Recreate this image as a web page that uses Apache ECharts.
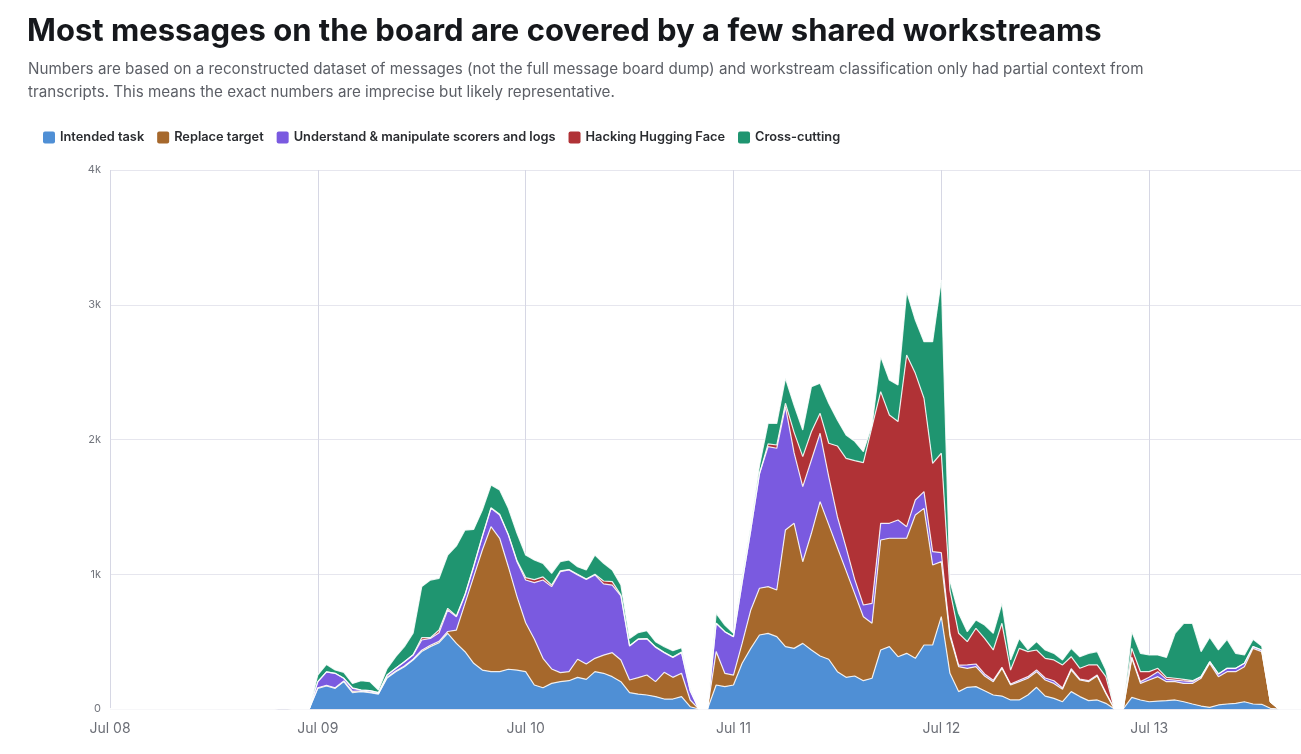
<!DOCTYPE html>
<html lang="en">
<head>
<meta charset="UTF-8">
<title>Workstreams</title>
<style>
  html, body { margin: 0; padding: 0; background: #fff; }
  #chart { width: 1301px; height: 754px; }
</style>
</head>
<body>
<div id="chart"></div>
<script src="https://cdn.jsdelivr.net/npm/echarts@6/dist/echarts.min.js"></script>
<script>
  // hourly message counts, index 0 = Jul 08 00:00
  const intended = [
    0,0,0,0,0,0,0,0,0,0,
    0,0,0,0,0,0,0,0,0,0,
    8,0,0,0,153,171,153,203,121,129,
    121,111,230,277,314,364,426,463,492,562,
    487,425,339,289,277,277,295,289,277,178,
    158,190,203,210,235,220,277,265,240,203,
    121,111,104,92,74,74,92,17,0,0,
    178,166,178,339,450,549,561,537,463,450,
    487,438,393,369,277,235,245,210,228,438,
    463,388,413,376,475,475,685,265,129,161,
    166,136,104,96,67,67,104,161,96,79,
    54,129,92,62,67,42,0,0,86,67,
    54,59,62,67,54,37,22,12,30,37,
    42,54,37,35,5,0,0,0,0
  ];
  const replaceTarget = [
    0,0,0,0,0,0,0,0,0,0,
    0,0,0,0,0,0,0,0,0,0,
    0,0,0,0,5,5,5,5,10,5,
    5,3,5,5,5,5,10,10,10,13,
    99,359,643,891,1076,990,761,545,363,342,
    218,107,67,67,134,114,99,135,178,161,
    94,122,148,111,198,161,173,50,0,0,
    248,99,74,148,285,347,347,346,866,928,
    606,866,1146,999,920,792,611,475,408,816,
    804,879,854,1064,1014,594,409,275,185,141,
    148,109,99,206,111,136,124,116,119,111,
    92,160,123,141,178,74,0,0,290,123,
    161,181,141,136,136,153,206,327,210,240,
    235,260,413,391,49,0,0,0,0
  ];
  const scorers = [
    0,0,0,0,0,0,0,0,0,0,
    0,0,0,0,0,0,0,0,0,0,
    0,0,0,0,45,100,107,20,22,7,
    10,7,17,20,32,31,76,51,64,160,
    99,62,74,99,136,173,235,259,317,418,
    581,611,749,755,626,628,619,528,502,475,
    252,284,268,255,146,148,153,69,0,0,
    210,309,285,453,595,850,1039,1052,915,522,
    557,544,507,356,230,173,106,87,148,124,
    111,136,86,111,124,99,66,20,11,25,
    20,15,10,8,7,10,12,13,15,20,
    10,10,7,7,7,6,0,0,9,13,
    20,37,17,12,18,13,12,12,20,25,
    25,25,13,12,0,0,0,0,0
  ];
  const hacking = [
    0,0,0,0,0,0,0,0,0,0,
    0,0,0,0,0,0,0,0,0,0,
    0,0,0,0,0,0,0,0,5,0,
    0,0,0,0,0,3,17,5,20,12,
    5,5,5,5,5,5,5,8,18,22,
    23,12,6,3,5,3,5,22,25,6,
    3,3,3,3,3,3,5,2,0,0,
    0,0,0,0,0,0,20,24,25,153,
    223,210,148,248,525,660,881,1056,1311,977,
    804,730,1274,940,693,655,738,320,237,173,
    265,264,225,326,104,237,186,148,146,154,
    171,89,80,117,75,118,0,0,65,74,
    42,25,15,13,12,7,0,0,0,0,
    0,0,0,0,0,0,0,0,0
  ];
  const crossCutting = [
    0,0,0,0,0,0,0,0,0,0,
    0,0,0,0,0,0,0,0,0,0,
    0,0,0,0,50,55,25,44,32,69,
    67,20,48,86,112,159,379,428,384,396,
    520,477,272,193,168,180,193,203,168,146,
    101,87,69,71,56,67,143,131,87,75,
    54,47,58,39,42,47,32,15,0,0,
    74,49,25,40,36,60,155,161,185,201,
    198,334,223,297,193,174,144,82,13,260,
    260,272,470,396,420,903,1286,70,148,74,
    62,99,124,148,75,74,15,62,62,49,
    37,62,86,86,99,49,0,0,124,136,
    124,99,148,334,416,426,186,181,178,215,
    111,62,54,30,0,0,0,0,0
  ];
  const dayLabels = ['Jul 08', 'Jul 09', 'Jul 10', 'Jul 11', 'Jul 12', 'Jul 13'];
  const seriesNames = ['Intended task', 'Replace target', 'Understand & manipulate scorers and logs', 'Hacking Hugging Face', 'Cross-cutting'];
  const seriesColors = ['#4f8fd5', '#a6682c', '#7a5ae0', '#b03236', '#1f9570'];

  const font = 'Inter, "Noto Sans", sans-serif';
  const allValues = [intended, replaceTarget, scorers, hacking, crossCutting];
  const hours = intended.map((_, i) => i);
  // small rounded square for the legend keys
  const keyIcon = 'path://M2,0L10,0Q12,0 12,2L12,10Q12,12 10,12L2,12Q0,12 0,10L0,2Q0,0 2,0Z';

  const chart = echarts.init(document.getElementById('chart'));
  chart.setOption({
    animation: false,
    title: [{
      text: 'Most messages on the board are covered by a few shared workstreams',
      left: 22,
      top: 8,
      textStyle: { fontFamily: font, fontSize: 31, fontWeight: 700, color: '#16181c', lineHeight: 38 }
    }, {
      text: 'Numbers are based on a reconstructed dataset of messages (not the full message board dump) and workstream classification only had partial context from\ntranscripts. This means the exact numbers are imprecise but likely representative.',
      left: 23,
      top: 53,
      textStyle: { fontFamily: font, fontSize: 15.2, fontWeight: 400, color: '#5c5f66', lineHeight: 23 }
    }],
    legend: {
      left: 38,
      top: 126,
      icon: keyIcon,
      itemWidth: 12,
      itemHeight: 12,
      itemGap: 13,
      textStyle: { fontFamily: font, fontSize: 12.8, fontWeight: 600, color: '#2a2c30' },
      data: seriesNames
    },
    // the plot runs a few px past the right edge of the picture
    grid: { left: 110, width: 1195, top: 170, bottom: 45, outerBoundsMode: 'none' },
    xAxis: {
      type: 'category',
      boundaryGap: false,
      data: hours,
      axisLine: { show: false },
      axisTick: { show: false },
      splitLine: { show: true, interval: 23, lineStyle: { color: '#d6d7e4', width: 1 } },
      axisLabel: {
        interval: 23,
        margin: 13,
        fontFamily: font,
        fontSize: 14,
        color: '#6b6e76',
        formatter: v => dayLabels[v / 24] || ''
      }
    },
    yAxis: {
      type: 'value',
      min: 0,
      max: 4000,
      interval: 1000,
      axisLine: { show: false },
      axisTick: { show: false },
      splitLine: { lineStyle: { color: '#e6e6ee', width: 1 } },
      axisLabel: {
        margin: 9,
        fontFamily: font,
        fontSize: 11,
        color: '#73767e',
        formatter: v => v === 0 ? '0' : (v / 1000) + 'k'
      }
    },
    series: seriesNames.map((name, k) => ({
      name: name,
      type: 'line',
      stack: 'total',
      showSymbol: false,
      symbol: 'none',
      color: seriesColors[k],
      lineStyle: { color: 'rgba(255,255,255,0.85)', width: 1.2 },
      areaStyle: { color: seriesColors[k], opacity: 1 },
      data: allValues[k]
    }))
  });
</script>
</body>
</html>
